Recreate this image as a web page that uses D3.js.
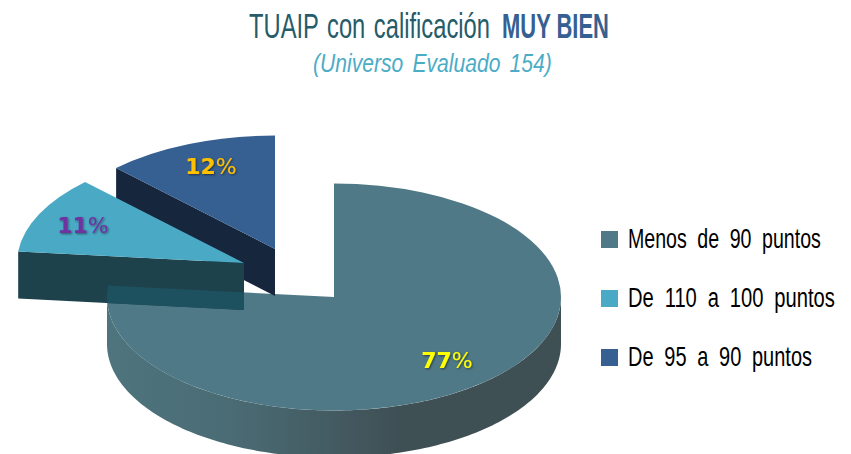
<!DOCTYPE html>
<html>
<head>
<meta charset="utf-8">
<script src="https://cdn.jsdelivr.net/npm/d3@7"></script>
<style>
  html, body { margin: 0; padding: 0; background: #fff; }
  svg { display: block; }
</style>
</head>
<body>
<div id="chart"></div>
<script>
// data (counts estimated from the percentages and the universe of 154)
var categories = ["Menos de 90 puntos", "De 110 a 100 puntos", "De 95 a 90 puntos"];
var counts = [118, 17, 19];
var colors = ["#4f7986", "#4aaac5", "#376092"];
var wallColors = [null, "#1e424c", "#15263d"];
var labelColors = ["#ffff00", "#7030a0", "#ffc000"];

var width = 851, height = 454;
var rx = 227, ry = 113.5, depth = 47;
var center = {x: 334, y: 297};
var narrow = "'Liberation Sans Narrow', 'Liberation Sans', sans-serif";

// where each slice's apex sits once pulled out, and its label relative to the apex
var apexShift = [[0, 0], [-90, -34], [-59, -48]];
var labelShift = [[113, 71], [-161, -30], [-64, -75]];

var svg = d3.select("#chart")
  .append("svg")
    .attr("width", width)
    .attr("height", height);

var defs = svg.append("defs");

var sideGrad = defs.append("linearGradient")
    .attr("id", "side")
    .attr("gradientUnits", "userSpaceOnUse")
    .attr("x1", center.x - rx).attr("x2", center.x + rx)
    .attr("y1", 0).attr("y2", 0);
sideGrad.append("stop").attr("offset", "0").attr("stop-color", "#4e747e");
sideGrad.append("stop").attr("offset", "0.28").attr("stop-color", "#4a6b74");
sideGrad.append("stop").attr("offset", "0.64").attr("stop-color", "#3f5055");
sideGrad.append("stop").attr("offset", "1").attr("stop-color", "#3f5055");

var shadow = defs.append("filter").attr("id", "shadow")
    .attr("x", "-20%").attr("y", "-20%").attr("width", "140%").attr("height", "140%");
shadow.append("feDropShadow")
    .attr("dx", 1).attr("dy", 1).attr("stdDeviation", 0.8)
    .attr("flood-color", "#000").attr("flood-opacity", 0.5);

var pie = d3.pie().sort(null);
var slices = pie(counts);
var arc = d3.arc().innerRadius(0).outerRadius(rx);

function rim(angle) {
  return [rx * Math.sin(angle), -ry * Math.cos(angle)];
}

function apex(i) {
  return [center.x + apexShift[i][0], center.y + apexShift[i][1]];
}

function drawTop(parent, i, fill) {
  return parent.append("path")
    .attr("d", arc(slices[i]))
    .attr("transform", "translate(" + apex(i) + ") scale(1," + (ry / rx) + ")")
    .attr("fill", fill);
}

// straight wall of a pulled out slice, on the side facing the viewer
function wallPoints(i, angle) {
  var a = apex(i), r = rim(angle);
  return [
    [a[0] + r[0], a[1] + r[1]],
    a,
    [a[0], a[1] + depth],
    [a[0] + r[0], a[1] + r[1] + depth]
  ];
}

var line = d3.line();

// curved side of the big slice, front half of the ellipse only
var front = d3.range(Math.PI / 2, 3 * Math.PI / 2 + 0.001, 0.02).map(rim);
var sidePts = front.map(function(p) { return [center.x + p[0], center.y + p[1]]; })
  .concat(front.slice().reverse().map(function(p) { return [center.x + p[0], center.y + p[1] + depth]; }));

svg.append("path")
    .attr("d", line(sidePts) + "Z")
    .attr("fill", "url(#side)");

drawTop(svg, 0, colors[0]);

svg.append("path")
    .attr("d", line(wallPoints(2, slices[2].startAngle)) + "Z")
    .attr("fill", wallColors[2]);
drawTop(svg, 2, colors[2]);

var wall11 = wallPoints(1, slices[1].startAngle);
svg.append("path")
    .attr("d", line(wall11) + "Z")
    .attr("fill", wallColors[1]);
drawTop(svg, 1, colors[1]);

// the big slice shows through the wall of the 11% slice
defs.append("clipPath").attr("id", "wallClip")
  .append("path").attr("d", line(wall11) + "Z");
var see = svg.append("g").attr("clip-path", "url(#wallClip)");
drawTop(see, 0, "#1e5160");

// percentage labels
var pct = d3.format(".0%");
var total = d3.sum(counts);
slices.forEach(function(d, i) {
  var a = apex(i);
  var t = svg.append("text")
    .attr("x", a[0] + labelShift[i][0])
    .attr("y", a[1] + labelShift[i][1])
    .attr("text-anchor", "middle")
    .attr("font-family", "'DejaVu Sans', sans-serif")
    .attr("font-size", 22)
    .attr("font-weight", "bold")
    .attr("fill", labelColors[i])
    .attr("filter", "url(#shadow)");
  var s = pct(d.value / total);
  t.append("tspan").text(s.slice(0, -1));
  t.append("tspan").attr("font-weight", "normal").text("%");
});

// text squeezed sideways to a measured width, the original font is a condensed one
function fitted(x, y, len, str, size, fill, gap) {
  var t = svg.append("text")
    .attr("font-family", narrow)
    .attr("font-size", size)
    .attr("word-spacing", gap)
    .attr("fill", fill)
    .text(str);
  return { node: t, x: x, y: y, len: len };
}

function place(f) {
  var natural = f.node.node().getComputedTextLength();
  f.node.attr("transform", "translate(" + f.x + "," + f.y + ") scale(" + (f.len / natural) + ",1)");
}

var title1 = fitted(249, 38, 241, "TUAIP con calificación", 36, "#265c69", 3);
var title2 = fitted(502, 38, 107, "MUY BIEN", 36, "#376092", 0);
title2.node.attr("font-weight", "bold");
var sub = fitted(313, 72, 239, "(Universo Evaluado 154)", 26, "#4bacc6", 4);
sub.node.attr("font-style", "italic");
[title1, title2, sub].forEach(place);

// legend
var legendY = d3.scalePoint().domain(categories).range([248, 366]);
var legendLen = [193, 207, 184];

categories.forEach(function(c, i) {
  svg.append("rect")
    .attr("x", 601)
    .attr("y", legendY(c) - 17)
    .attr("width", 17)
    .attr("height", 17)
    .attr("fill", colors[i]);
  place(fitted(628, legendY(c), legendLen[i], c, 27, "#000", 7));
});
</script>
</body>
</html>
